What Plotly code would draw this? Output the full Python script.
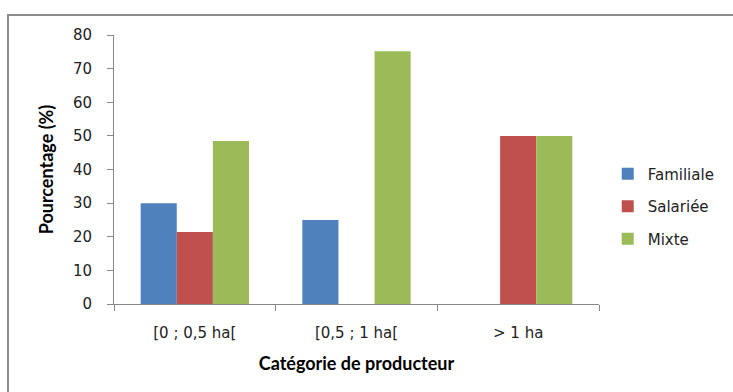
import plotly.graph_objects as go

# Producer categories (farm size) and share of each labour type, in %
categories = ["[0 ; 0,5 ha[", "[0,5 ; 1 ha[", "> 1 ha"]
familiale = [30.0, 25.0, 0.0]
salariee = [21.4, 0.0, 50.0]
mixte = [48.5, 75.2, 50.0]

series = [
    ("Familiale", familiale, "#4F81BD"),
    ("Salariée", salariee, "#C0504D"),
    ("Mixte", mixte, "#9BBB59"),
]

tick_font = dict(family="DejaVu Sans", size=15, color="#222222")
title_font = dict(family="Lato", size=18, color="#000000", weight="bold")

fig = go.Figure()
for i, (name, vals, color) in enumerate(series):
    fig.add_trace(go.Bar(
        x=categories, y=vals, name=name,
        marker=dict(color=color, line=dict(width=0)),
        legendgroup=f"g{i}",
    ))

fig.update_layout(
    width=733, height=392,
    margin=dict(l=114, r=134, t=35, b=88, autoexpand=False),
    paper_bgcolor="white", plot_bgcolor="white",
    barmode="group", bargap=0.33, bargroupgap=0,
    showlegend=True,
    legend=dict(
        x=1.018, xanchor="left", y=0.362, yanchor="middle",
        font=tick_font, tracegroupgap=10,
        bgcolor="rgba(0,0,0,0)",
    ),
    xaxis=dict(
        showline=True, linecolor="#888888", linewidth=1,
        ticks="outside", tickson="boundaries", ticklen=6, tickcolor="#888888",
        tickfont=tick_font, ticklabelstandoff=15,
        title=dict(text="Catégorie de producteur", font=title_font, standoff=16),
        showgrid=False, zeroline=False, automargin=False,
    ),
    yaxis=dict(
        range=[0, 80], dtick=10,
        showline=True, linecolor="#888888", linewidth=1,
        ticks="outside", ticklen=6, tickcolor="#888888",
        tickfont=tick_font, ticklabelstandoff=12,
        title=dict(text="Pourcentage (%)", font=title_font, standoff=14),
        showgrid=False, zeroline=False, automargin=False,
    ),
    shapes=[dict(
        type="rect", xref="paper", yref="paper",
        x0=-0.2186, x1=1.30, y0=-0.40, y1=1.0743,
        line=dict(color="#8C8C8C", width=2), fillcolor="rgba(0,0,0,0)",
        layer="below",
    )],
)

fig.write_html("out.html")
